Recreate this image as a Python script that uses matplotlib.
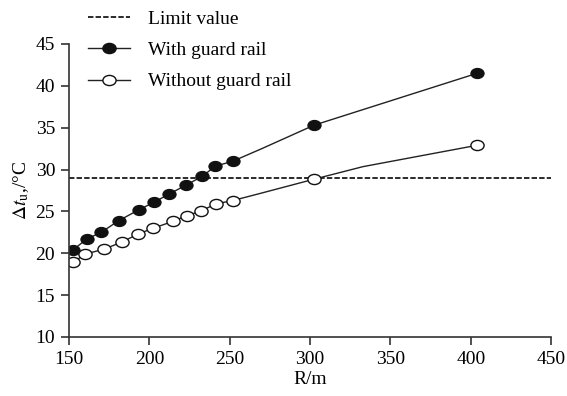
import matplotlib
matplotlib.use('Agg')
import matplotlib.pyplot as plt
from matplotlib.path import Path
from matplotlib.transforms import Affine2D
from matplotlib.lines import Line2D

plt.rcParams['font.family'] = 'Liberation Serif'
plt.rcParams['mathtext.fontset'] = 'stix'

# measured points (R in m, temperature difference in degC)
r_with = [152.5, 161, 170, 181, 193.5, 203, 212.5, 222.5, 233, 241, 252, 302.5, 404]
dt_with = [20.4, 21.7, 22.5, 23.9, 25.2, 26.1, 27.1, 28.1, 29.2, 30.4, 31.0, 35.3, 41.5]
r_without = [152.5, 160, 172, 183, 193, 202.5, 214.5, 223.5, 232, 241.5, 252, 302.5, 404]
dt_without = [18.9, 19.9, 20.5, 21.35, 22.3, 23.0, 23.8, 24.5, 25.05, 25.9, 26.3, 28.85, 32.9]

# curve through the points (extra bends between the marked points)
r_with_line = [152.5, 161, 170, 181, 193.5, 203, 212.5, 222.5, 233, 241, 252, 270, 302.5, 404]
dt_with_line = [20.4, 21.7, 22.5, 23.9, 25.2, 26.1, 27.1, 28.1, 29.2, 30.4, 31.0, 32.5, 35.3, 41.5]
r_without_line = [152.5, 160, 172, 183, 193, 202.5, 214.5, 223.5, 232, 241.5, 252, 270, 302.5, 333, 404]
dt_without_line = [18.9, 19.9, 20.5, 21.35, 22.3, 23.0, 23.8, 24.5, 25.05, 25.9, 26.3, 27.2, 28.85, 30.35, 32.9]

limit_value = 29.0
x_ticks = [150, 200, 250, 300, 350, 400, 450]
y_ticks = [10, 15, 20, 25, 30, 35, 40, 45]

# slightly flattened circle marker
oval = Path.unit_circle().transformed(Affine2D().scale(1.3, 1.0))

fig = plt.figure(figsize=(5.67, 3.96), dpi=100)
ax = fig.add_axes([0.1217, 0.149, 0.8503, 0.740])

ax.axhline(limit_value, color='#1a1a1a', lw=1.3, dashes=(3, 1.2))
ax.plot(r_with_line, dt_with_line, color='#222222', lw=1.0)
ax.plot(r_without_line, dt_without_line, color='#222222', lw=1.0)
ax.plot(r_with, dt_with, ls='none', marker=oval, ms=9.5, mfc='#111111',
        mec='#111111', mew=0.8)
ax.plot(r_without, dt_without, ls='none', marker=oval, ms=9.5, mfc='white',
        mec='#111111', mew=1.0)

ax.set_xlim(150, 450)
ax.set_ylim(10, 45)
ax.set_xticks(x_ticks)
ax.set_yticks(y_ticks)
for s in ['top', 'right']:
    ax.spines[s].set_visible(False)
for s in ['left', 'bottom']:
    ax.spines[s].set_linewidth(1.2)
    ax.spines[s].set_color('#333333')
ax.tick_params(direction='out', length=6, width=1.2, color='#333333',
               labelsize=14, pad=4)

ax.set_xlabel('R/m', fontsize=14, labelpad=2)
ax.set_ylabel(r'$\Delta t_{\mathrm{u}}$,/°C', fontsize=14, labelpad=3)

handles = [
    Line2D([], [], color='#1a1a1a', lw=1.3, dashes=(3, 1.2)),
    Line2D([], [], color='#222222', lw=1.0, marker=oval, ms=9.5,
           mfc='#111111', mec='#111111'),
    Line2D([], [], color='#222222', lw=1.0, marker=oval, ms=9.5,
           mfc='white', mec='#111111'),
]
labels = ['Limit value', 'With guard rail', 'Without guard rail']
fig.legend(handles, labels, loc='upper left', bbox_to_anchor=(0.124, 1.018),
           frameon=False, fontsize=14, handlelength=2.15, handletextpad=0.93,
           labelspacing=0.7)

fig.savefig('out.png', dpi=100)
